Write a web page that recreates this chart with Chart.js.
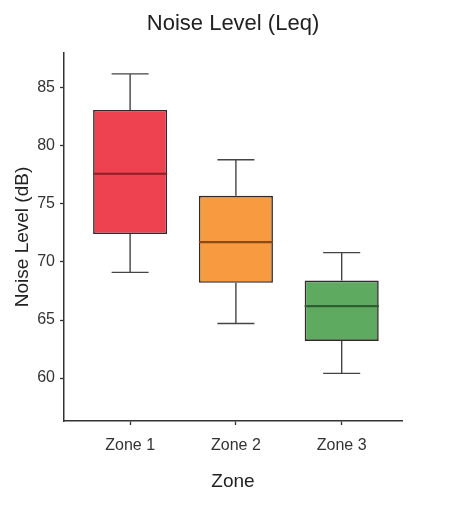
<!DOCTYPE html>
<html lang="en">
<head>
    <meta charset="UTF-8">
    <title>Noise Level (Leq)</title>
    <script src="https://cdn.jsdelivr.net/npm/chart.js"></script>
    <style>
        html, body { margin: 0; padding: 0; background: #fff; }
        #wrap { width: 471px; height: 508px; }
    </style>
</head>
<body>
    <div id="wrap"><canvas id="boxChart" width="471" height="508"></canvas></div>

    <script>
        // values
        const zones = ['Zone 1', 'Zone 2', 'Zone 3'];
        const positions = [1, 2, 3];
        const whiskerLow = [69.1, 64.7, 60.4];
        const q1 = [72.4, 68.2, 63.2];
        const median = [77.6, 71.7, 66.2];
        const q3 = [83.1, 75.7, 68.4];
        const whiskerHigh = [86.2, 78.8, 70.8];
        const yTicks = [60, 65, 70, 75, 80, 85];

        const fillColors = ['#ee4250', '#f89b40', '#5daa60'];
        const medianColors = ['#8a1f26', '#8a4a12', '#2f5f31'];

        const font = '"Liberation Sans", Arial, Helvetica, sans-serif';

        // whiskers, caps and median lines, placed with the chart's own scales
        const whiskerPlugin = {
            id: 'whiskers',
            afterDatasetsDraw(chart) {
                const ctx = chart.ctx;
                const x = chart.scales.x;
                const y = chart.scales.y;
                const bars = chart.getDatasetMeta(0).data;
                ctx.save();
                positions.forEach((p, i) => {
                    const cx = x.getPixelForValue(p);
                    const half = bars[i].width / 2;
                    const cap = half / 2;
                    ctx.strokeStyle = '#444';
                    ctx.lineWidth = 1.4;
                    ctx.beginPath();
                    ctx.moveTo(cx, y.getPixelForValue(q3[i]));
                    ctx.lineTo(cx, y.getPixelForValue(whiskerHigh[i]));
                    ctx.moveTo(cx - cap, y.getPixelForValue(whiskerHigh[i]));
                    ctx.lineTo(cx + cap, y.getPixelForValue(whiskerHigh[i]));
                    ctx.moveTo(cx, y.getPixelForValue(q1[i]));
                    ctx.lineTo(cx, y.getPixelForValue(whiskerLow[i]));
                    ctx.moveTo(cx - cap, y.getPixelForValue(whiskerLow[i]));
                    ctx.lineTo(cx + cap, y.getPixelForValue(whiskerLow[i]));
                    ctx.stroke();

                    ctx.strokeStyle = medianColors[i];
                    ctx.lineWidth = 2.2;
                    ctx.beginPath();
                    ctx.moveTo(cx - half, y.getPixelForValue(median[i]));
                    ctx.lineTo(cx + half, y.getPixelForValue(median[i]));
                    ctx.stroke();
                });
                ctx.restore();
            }
        };

        const ctx = document.getElementById('boxChart').getContext('2d');
        new Chart(ctx, {
            type: 'bar',
            data: {
                datasets: [{
                    data: positions.map((p, i) => ({ x: p, y: [q1[i], q3[i]] })),
                    backgroundColor: fillColors,
                    borderColor: '#33292a',
                    borderWidth: 1.6,
                    borderSkipped: false,
                    barPercentage: 0.7,
                    categoryPercentage: 1
                }]
            },
            options: {
                responsive: false,
                animation: false,
                layout: { padding: { left: 0, right: 69, top: 0, bottom: 0 } },
                plugins: {
                    legend: { display: false },
                    tooltip: { enabled: false },
                    title: {
                        display: true,
                        fullSize: false,
                        text: 'Noise Level (Leq)',
                        color: '#222',
                        font: { family: font, size: 22, weight: 'normal' },
                        padding: { top: 11, bottom: 15.6 }
                    }
                },
                scales: {
                    x: {
                        type: 'linear',
                        min: 0.375,
                        max: 3.57,
                        offset: false,
                        afterBuildTicks: s => { s.ticks = positions.map(v => ({ value: v })); },
                        afterFit: s => { s.height = 87; },
                        ticks: {
                            callback: v => zones[v - 1],
                            color: '#333',
                            padding: 11,
                            font: { family: font, size: 16 }
                        },
                        grid: { offset: false, drawOnChartArea: false, tickLength: 4, color: '#333', tickWidth: 1.3 },
                        border: { display: true, color: '#333', width: 1.5 },
                        title: {
                            display: true,
                            text: 'Zone',
                            color: '#222',
                            font: { family: font, size: 19 },
                            padding: { top: 0, bottom: 15 }
                        }
                    },
                    y: {
                        min: 56.3,
                        max: 88,
                        afterBuildTicks: s => { s.ticks = yTicks.map(v => ({ value: v })); },
                        afterFit: s => { s.width = 64; },
                        ticks: {
                            color: '#333',
                            padding: 5,
                            font: { family: font, size: 16 }
                        },
                        grid: { drawOnChartArea: false, tickLength: 4, color: '#333', tickWidth: 1.3 },
                        border: { display: true, color: '#333', width: 1.5 },
                        title: {
                            display: true,
                            text: 'Noise Level (dB)',
                            color: '#222',
                            font: { family: font, size: 19 },
                            padding: { top: 11, bottom: 0 }
                        }
                    }
                }
            },
            plugins: [whiskerPlugin]
        });
    </script>
</body>
</html>
